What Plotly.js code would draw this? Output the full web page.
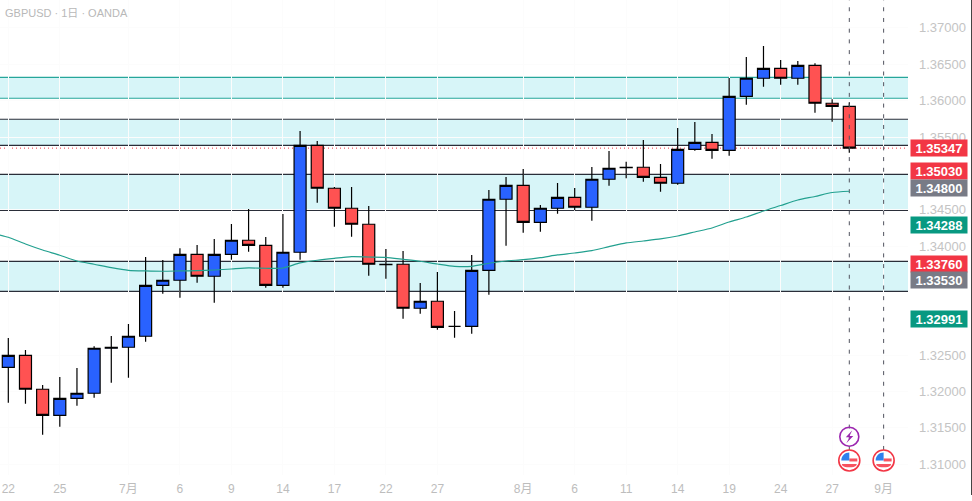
<!DOCTYPE html>
<html><head><meta charset="utf-8">
<script src="https://cdn.plot.ly/plotly-3.0.1.min.js"></script>
<style>html,body{margin:0;padding:0;background:#fff}#c{width:972px;height:501px}</style></head>
<body><div id="c"></div>
<script>
const idx=[0,1,2,3,4,5,6,7,8,9,10,11,12,13,14,15,16,17,18,19,20,21,22,23,24,25,26,27,28,29,30,31,32,33,34,35,36,37,38,39,40,41,42,43,44,45,46,47,48,49];
const open=[1.32333,1.32498,1.32031,1.31673,1.31907,1.31976,1.32595,1.32609,1.32760,1.33461,1.33530,1.33887,1.33585,1.33887,1.34080,1.34011,1.33461,1.33915,1.35386,1.34795,1.34520,1.34300,1.33750,1.33750,1.33145,1.33241,1.32897,1.32897,1.33667,1.34644,1.34836,1.34327,1.34520,1.34671,1.34534,1.34919,1.35084,1.35084,1.34946,1.34864,1.35331,1.35427,1.35317,1.36060,1.36308,1.36445,1.36308,1.36486,1.35964,1.35922];
const high=[1.32736,1.32571,1.32090,1.32200,1.32324,1.32622,1.32764,1.32929,1.33850,1.33809,1.33970,1.34015,1.34098,1.34304,1.34510,1.34125,1.34442,1.35583,1.35445,1.34813,1.34813,1.34551,1.33960,1.33933,1.33493,1.33644,1.33108,1.33878,1.34772,1.34950,1.35060,1.34565,1.34868,1.34799,1.35088,1.35308,1.35161,1.35459,1.35129,1.35624,1.35707,1.35542,1.36312,1.36600,1.36752,1.36559,1.36545,1.36514,1.36019,1.35977];
const low=[1.31847,1.31833,1.31407,1.31517,1.31805,1.31915,1.32122,1.32190,1.32685,1.33346,1.33291,1.33497,1.33222,1.33813,1.33923,1.33428,1.33428,1.33813,1.34597,1.34267,1.34129,1.33593,1.33552,1.33002,1.33070,1.32851,1.32741,1.32796,1.33332,1.34006,1.34184,1.34198,1.34446,1.34492,1.34349,1.34831,1.34932,1.34886,1.34748,1.34844,1.35312,1.35202,1.35243,1.35944,1.36192,1.36220,1.36220,1.35834,1.35711,1.35284];
const close=[1.32498,1.32031,1.31673,1.31907,1.31976,1.32595,1.32609,1.32760,1.33461,1.33530,1.33887,1.33585,1.33887,1.34080,1.34011,1.33461,1.33915,1.35386,1.34795,1.34520,1.34300,1.33750,1.33745,1.33145,1.33241,1.32883,1.32897,1.33667,1.34644,1.34836,1.34327,1.34520,1.34671,1.34534,1.34919,1.35070,1.35078,1.34946,1.34864,1.35331,1.35427,1.35317,1.36060,1.36308,1.36445,1.36308,1.36486,1.35964,1.35922,1.35347];
const maX=[-0.5,0,1,2,3,4,5,6,7,8,9,10,11,12,13,14,15,16,17,18,19,20,21,22,23,24,25,26,27,28,29,30,31,32,33,34,35,36,37,38,39,40,41,42,43,44,45,46,47,48,49];
const maY=[1.34153,1.34121,1.34029,1.33946,1.33874,1.33795,1.33750,1.33703,1.33667,1.33658,1.33654,1.33658,1.33662,1.33671,1.33685,1.33699,1.33695,1.33699,1.33768,1.33805,1.33832,1.33854,1.33850,1.33846,1.33819,1.33791,1.33754,1.33722,1.33722,1.33764,1.33795,1.33813,1.33841,1.33878,1.33905,1.33937,1.33992,1.34043,1.34070,1.34098,1.34139,1.34194,1.34249,1.34331,1.34400,1.34483,1.34558,1.34634,1.34682,1.34737,1.34754];
const xTickIdx=[0,3,7,10,13,16,19,22,25,30,33,36,39,42,45,48,51];
const xTickText=['22','25','7月','6','9','14','17','22','27','8月','6','11','14','19','24','27','9月'];
const yTicks=[1.31,1.315,1.32,1.325,1.34,1.345,1.355,1.36,1.365,1.37];
const tealZone=[1.36033,1.36321];
const darkZones=[[1.35386,1.35744],[1.34492,1.34987],[1.33378,1.33791]];
const lastPrice=1.35347;
const eventIdx=[49,51];
const eventEnd=1.31196, flagPrice=1.31052, boltPrice=1.31379;
const priceTags=[['1.35347','#f23645'],['1.35030','#f23645'],['1.34800','#787b86'],['1.34288','#089981'],['1.33760','#f23645'],['1.33530','#787b86'],['1.32991','#089981']];
const title='GBPUSD · 1日 · OANDA';

const FONT='"Liberation Sans","Noto Sans CJK JP",Arial,sans-serif';
const shapes=[];
function zone(z,c){
  shapes.push({type:'rect',xref:'paper',yref:'y',x0:0,x1:1,y0:z[0],y1:z[1],fillcolor:'#d7f5f8',line:{width:0},layer:'below'});
  z.forEach(v=>shapes.push({type:'line',xref:'paper',yref:'y',x0:0,x1:1,y0:v,y1:v,line:{color:c,width:1.2},layer:'below'}));
}
zone(tealZone,'#26a69a');
darkZones.forEach(z=>zone(z,'#2a2e39'));
shapes.push({type:'line',xref:'paper',yref:'y',x0:0,x1:1,y0:lastPrice,y1:lastPrice,line:{color:'#f23645',width:1,dash:'1px,3px'},layer:'below'});
const evX=eventIdx.flatMap(i=>[i,i,null]);
const evY=eventIdx.flatMap(i=>[eventEnd,1.3738,null]);
shapes.push({type:'line',xref:'paper',yref:'paper',x0:971.5/908,x1:971.5/908,y0:-20/475,y1:1,line:{color:'#444',width:1}});
function px(i,p,o){return Object.assign({xref:'x',yref:'y',xsizemode:'pixel',ysizemode:'pixel',xanchor:i,yanchor:p},o);}
function flag(i){
  shapes.push(px(i,flagPrice,{type:'circle',x0:-10.5,x1:10.5,y0:-10.5,y1:10.5,fillcolor:'#fff',line:{color:'#f23645',width:1.6}}));
  shapes.push(px(i,flagPrice,{type:'path',path:'M -7.5 -3.5 L 7.5 -3.5 L 7 -5 C 5 -7.5 -5 -7.5 -7 -5 Z',fillcolor:'#f7525f',line:{width:0}}));
  shapes.push(px(i,flagPrice,{type:'path',path:'M 0 2 L 8 2 L 8 -1 L 0 -1 Z',fillcolor:'#f7525f',line:{width:0}}));
  shapes.push(px(i,flagPrice,{type:'path',path:'M 0 0 L -8 0 C -8 4.5 -4.5 8 0 8 Z',fillcolor:'#2f80ed',line:{width:0}}));
}
eventIdx.forEach(flag);
shapes.push(px(49,boltPrice,{type:'circle',x0:-9.5,x1:9.5,y0:-9.5,y1:9.5,line:{color:'#9c27b0',width:1.6}}));
shapes.push(px(49,boltPrice,{type:'path',path:'M 3 6.5 L -3.5 -0.5 L 0.2 -0.5 L -3 -6.5 L 4 0.8 L 0.2 0.8 Z',fillcolor:'#9c27b0',line:{width:0}}));

const annotations=[{xref:'paper',yref:'paper',x:0,y:1,xshift:3,yshift:-12.5,xanchor:'left',yanchor:'middle',text:title,showarrow:false,font:{family:FONT,size:11,color:'#b8b8b8'}}];
priceTags.forEach(t=>annotations.push({xref:'paper',yref:'y',x:1,y:parseFloat(t[0]),xshift:1.5,xanchor:'left',yanchor:'middle',width:56,height:16,borderpad:0,align:'center',valign:'middle',bgcolor:t[1],text:'<b>'+t[0]+'</b>',showarrow:false,font:{family:FONT,size:13,color:'#fff'}}));

const traces=[
 {type:'scatter',mode:'lines',x:evX,y:evY,line:{color:'#50535e',width:1,dash:'4px,6.7px'},hoverinfo:'skip',showlegend:false,connectgaps:false},
 {type:'candlestick',x:idx,open:open,high:high,low:low,close:close,whiskerwidth:0,hoverinfo:'skip',
  increasing:{line:{color:'#000',width:1.2},fillcolor:'#2962ff'},
  decreasing:{line:{color:'#000',width:1.2},fillcolor:'#ff5252'},showlegend:false},
 {type:'scatter',mode:'lines',x:maX,y:maY,line:{color:'#22a08f',width:1.2,shape:'spline',smoothing:0.6},hoverinfo:'skip',showlegend:false}
];
const layout={width:972,height:501,paper_bgcolor:'#fff',plot_bgcolor:'#fff',showlegend:false,boxgap:0.3,boxgroupgap:0,
 margin:{l:0,r:64,t:0,b:26,pad:0},
 xaxis:{type:'linear',range:[-0.484,52.42],tickmode:'array',tickvals:xTickIdx,ticktext:xTickText,showgrid:true,gridcolor:'#fcfcfc',zeroline:false,showline:false,ticks:'',ticklabelstandoff:5,rangeslider:{visible:false},tickfont:{family:FONT,size:12,color:'#bdbdbd'},fixedrange:true},
 yaxis:{type:'linear',side:'right',range:[1.30852,1.37384],tickmode:'array',tickvals:yTicks,tickformat:'.5f',showgrid:true,gridcolor:'#fcfcfc',zeroline:false,showline:false,ticks:'',ticklabelstandoff:10,tickfont:{family:FONT,size:13,color:'#c4c4c4'},fixedrange:true},
 shapes:shapes,annotations:annotations};
Plotly.newPlot('c',traces,layout,{displayModeBar:false,staticPlot:true});
</script></body></html>
